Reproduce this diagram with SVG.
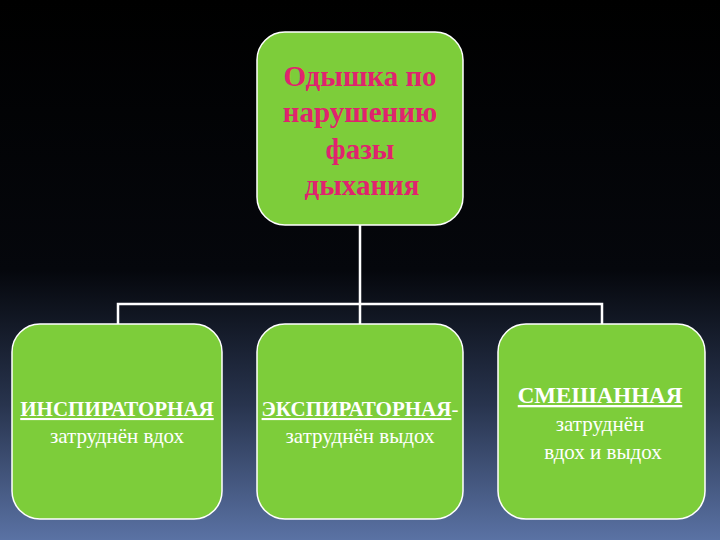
<svg xmlns="http://www.w3.org/2000/svg" width="720" height="540" viewBox="0 0 720 540">
<defs>
<linearGradient id="bg" x1="0" y1="0" x2="0" y2="1">
<stop offset="0" stop-color="#000"/><stop offset="0.5" stop-color="#05070c"/><stop offset="0.75" stop-color="#28344e"/><stop offset="1" stop-color="#5a72a4"/>
</linearGradient>
</defs>
<style>
.box{fill:#7dcd3a;stroke:#ffffff;stroke-width:1.5}
.t{font-family:"Liberation Serif",serif;font-size:21px;fill:#fff;text-anchor:middle}
.h{font-weight:bold;text-decoration:underline}
.m{font-family:"Liberation Serif",serif;font-size:29px;font-weight:bold;fill:#e0236e;text-anchor:middle}
.c{stroke:#fff;stroke-width:2.5;fill:none}
</style>
<rect width="720" height="540" fill="url(#bg)"/>
<g id="connectors">
<path class="c" d="M360 225V324M118 324V304H602V324"/>
</g>
<g id="root">
<rect class="box" x="257" y="32" width="206" height="193" rx="28"/>
<text class="m" x="360" y="86">Одышка по</text>
<text class="m" x="360" y="122">нарушению</text>
<text class="m" x="360" y="159">фазы</text>
<text class="m" x="362" y="195">дыхания</text>
</g>
<g id="insp">
<rect class="box" x="12" y="324" width="210" height="195" rx="28"/>
<text class="t h" x="117" y="416">ИНСПИРАТОРНАЯ</text>
<text class="t" x="117" y="443">затруднён вдох</text>
</g>
<g id="exsp">
<rect class="box" x="257" y="324" width="206" height="195" rx="28"/>
<text class="t" x="360" y="416"><tspan class="h">ЭКСПИРАТОРНАЯ</tspan>-</text>
<text class="t" x="360" y="443">затруднён выдох</text>
</g>
<g id="mixed">
<rect class="box" x="498" y="324" width="207" height="195" rx="28"/>
<text class="t h" x="600" y="403" style="font-size:23px">СМЕШАННАЯ</text>
<text class="t" x="600" y="431">затруднён</text>
<text class="t" x="603" y="459">вдох и выдох</text>
</g>
</svg>
